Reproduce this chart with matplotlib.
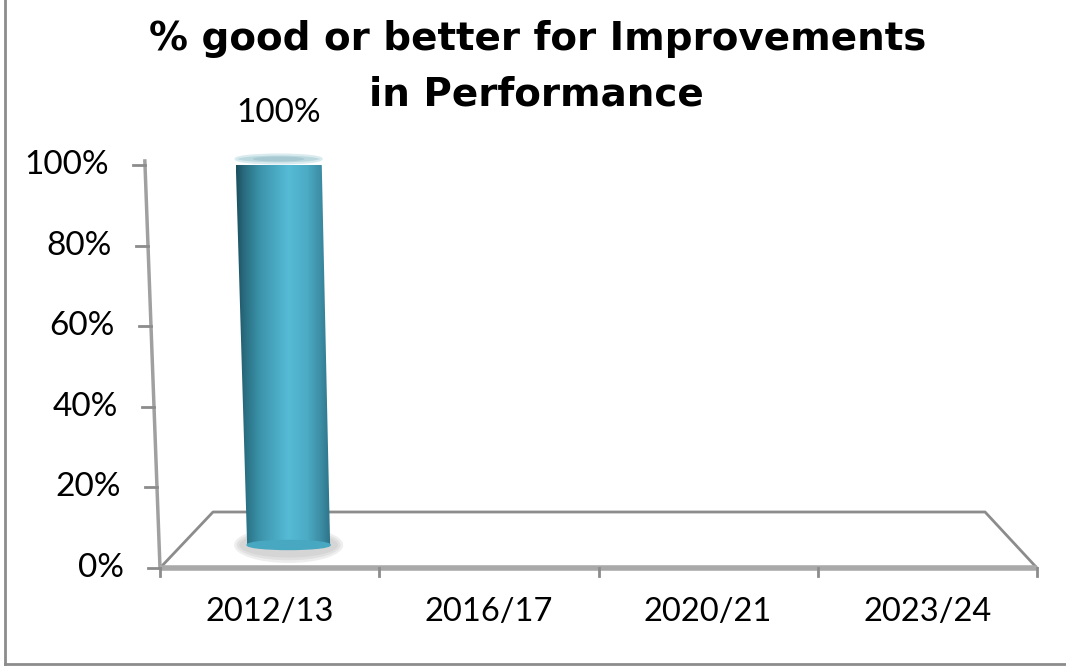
import numpy as np
import matplotlib
matplotlib.use("Agg")
import matplotlib.pyplot as plt
from matplotlib.patches import Polygon, Ellipse
from matplotlib.colors import LinearSegmentedColormap
from matplotlib.lines import Line2D

categories = ["2012/13", "2016/17", "2020/21", "2023/24"]
values = [1.0]  # only the first year has a value
bar_labels = ["100%"]
yticks = [0.0, 0.2, 0.4, 0.6, 0.8, 1.0]
ytick_labels = ["0%", "20%", "40%", "60%", "80%", "100%"]
title_lines = ["% good or better for Improvements", "in Performance"]

W, H = 1066, 666
fig = plt.figure(figsize=(W / 100, H / 100), dpi=100)
fig.patch.set_facecolor("white")

# outer frame (left and bottom only are visible)
fig.add_artist(Line2D([5 / W, 5 / W], [2 / H, 1], color="#8c8c8c", lw=2))
fig.add_artist(Line2D([5 / W, 1], [2 / H, 2 / H], color="#8c8c8c", lw=2))

ax = fig.add_axes([160 / W, 98 / H, 877 / W, 403 / H])
ax.set_xlim(-0.5, len(categories) - 0.5)
ax.set_ylim(0, 1)
ax.axis("off")

px_x = (len(categories)) / 877.0   # data units per pixel, x
px_y = 1.0 / 403.0                 # data units per pixel, y
grey = "#8c8c8c"
x0, x1 = -0.5, len(categories) - 0.5

# floor of the 3d box
floor_h = 56 * px_y
floor_in = 53 * px_x
ax.plot([x0, x0 + floor_in, x1 - floor_in * 0.98, x1], [0, floor_h, floor_h, 0],
        color=grey, lw=2, clip_on=False, zorder=1)
# front base line and ticks
ax.plot([x0, x1], [0, 0], color="#a9a9a9", lw=4, clip_on=False, zorder=2,
        solid_capstyle="butt")
for b in np.arange(x0, x1 + 0.01, 1.0):
    ax.plot([b, b], [0, -8 * px_y], color=grey, lw=2, clip_on=False, zorder=2)

# slanted value axis
slant = 15 * px_x
ax.plot([x0, x0 - slant * 1.01], [0, 1.01], color="#a0a0a0", lw=2.5,
        clip_on=False, zorder=1)
for v, lab in zip(yticks, ytick_labels):
    xa = x0 - slant * v
    ax.plot([xa, xa - 12 * px_x], [v, v], color=grey, lw=2, clip_on=False)
    ax.text(xa - 36 * px_x, v, lab, ha="right", va="center", fontsize=24,
            family="Lato", color="black", clip_on=False)

for i, c in enumerate(categories):
    ax.text(i, -44 * px_y, c, ha="center", va="center", fontsize=23.5,
            family="Lato", color="black", clip_on=False)

# cylinder bars
cmap = LinearSegmentedColormap.from_list("cyl", [
    (0.0, "#1b4f5e"), (0.08, "#286b7d"), (0.25, "#3b93aa"),
    (0.55, "#56bbd6"), (0.75, "#4cabc5"), (0.9, "#3b8ca3"), (1.0, "#2c7286")])
grad = np.linspace(0, 1, 256).reshape(1, -1)
for i, v in enumerate(values):
    bot = 23 * px_y
    top = v + 6 * px_y
    ct, cb = i + 9 * px_x, i + 19 * px_x
    hw_t, hw_b = 43 * px_x, 41.5 * px_x
    eh = 9 * px_y
    # soft shadow under the bar
    for k, a in [(1.0, 0.35), (0.8, 0.45), (0.6, 0.6)]:
        ax.add_patch(Ellipse((cb, bot), 2 * hw_b + 26 * px_x * k, 3.0 * eh * k + eh,
                             color="#cfcfcf", alpha=a, lw=0, zorder=3, clip_on=False))
    body = Polygon([(ct - hw_t, top), (ct + hw_t, top), (cb + hw_b, bot),
                    (cb - hw_b, bot)], closed=True, fc="none", ec="none")
    ax.add_patch(body)
    img = ax.imshow(grad, cmap=cmap, aspect="auto", zorder=4,
                    extent=[ct - hw_t, cb + hw_b, bot, top], clip_on=True)
    img.set_clip_path(body)
    ax.add_patch(Ellipse((cb, bot), 2 * hw_b, eh, color="#48a8c2", zorder=4,
                         clip_on=False))
    ax.add_patch(Ellipse((ct, top), 2 * hw_t, eh, fc="#bcd8df", ec="#d9ebef",
                         lw=1.5, zorder=5, clip_on=False))
    ax.add_patch(Ellipse((ct, top), 1.2 * hw_t, 0.55 * eh, fc="#a6c9d2",
                         ec="none", zorder=6, clip_on=False))
    ax.set_xlim(x0, x1)
    ax.set_ylim(0, 1)
    ax.annotate(bar_labels[i], (ct, top), xytext=(0, 33), textcoords="offset points",
                ha="center", va="center", fontsize=24, family="Lato",
                color="black", annotation_clip=False)

fig.text(538 / W, 1 - 50 / H, title_lines[0], ha="center", va="baseline",
         fontsize=28, fontweight="bold", family="DejaVu Sans")
fig.text(536 / W, 1 - 105 / H, title_lines[1], ha="center", va="baseline",
         fontsize=28, fontweight="bold", family="DejaVu Sans")

fig.savefig("out.png", dpi=100, facecolor="white")
